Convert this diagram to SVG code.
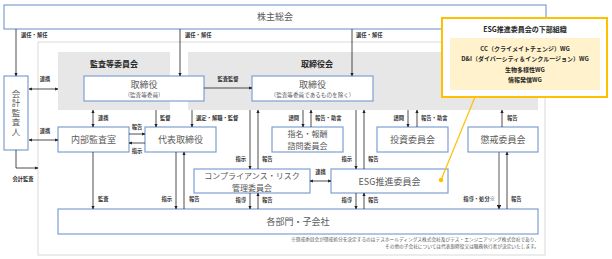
<svg xmlns="http://www.w3.org/2000/svg" width="612" height="259" viewBox="0 0 612 259">
<defs>
<marker id="ah" viewBox="0 0 6 6" refX="5.5" refY="3" markerWidth="4" markerHeight="4" orient="auto-start-reverse">
<path d="M0,0 L6,3 L0,6 z" fill="#222"/>
</marker>
<style>
text{font-family:"Noto Sans CJK JP","Noto Sans",sans-serif}
.box{fill:#fff;stroke:#7F9FD3;stroke-width:1.2}
.panel{fill:#E7E7E7}
.t{font-size:9px;fill:#595959;text-anchor:middle}
.t2{font-size:8px;fill:#595959;text-anchor:middle}
.v{font-size:8.5px;fill:#595959;text-anchor:middle;writing-mode:vertical-rl;letter-spacing:1px}
.sub{font-size:5.6px;fill:#595959;text-anchor:middle}
.pt{font-size:8px;font-weight:bold;fill:#262626;text-anchor:middle}
.l{font-size:5.3px;font-weight:bold;fill:#333}
.e{text-anchor:end}
.m{text-anchor:middle}
.c line,.c path{stroke:#222;stroke-width:0.8;fill:none;marker-end:url(#ah)}
.c .d{marker-start:url(#ah)}
.ct{font-size:6px;font-weight:bold;fill:#262626;text-anchor:middle}
</style>
</defs>
<rect width="612" height="259" fill="#fff"/>
<rect x="38" y="42" width="507" height="213" fill="#fff" stroke="#D9D9D9" stroke-width="1"/>

<g id="panel-audit"><rect class="panel" x="58" y="52" width="112" height="58"/><text class="pt" x="114" y="67">監査等委員会</text></g>
<g id="panel-board"><rect class="panel" x="188" y="52" width="350" height="58"/><text class="pt" x="317" y="67">取締役会</text></g>

<g id="shareholders"><rect class="box" x="4" y="5" width="542" height="24"/><text class="t" x="275" y="20">株主総会</text></g>
<g id="auditor"><rect class="box" x="4" y="76" width="24" height="74"/>
<text class="v" x="16" y="113">会計監査人</text></g>
<g id="director-audit"><rect class="box" x="84" y="76" width="120" height="25"/><text class="t" x="144" y="88">取締役</text><text class="sub" x="144" y="97">（監査等委員）</text></g>
<g id="director-other"><rect class="box" x="252" y="76" width="121" height="25"/><text class="t" x="312.5" y="88">取締役</text><text class="sub" x="312.5" y="97">（監査等委員であるものを除く）</text></g>
<g id="internal-audit"><rect class="box" x="58" y="127" width="71" height="25"/><text class="t" x="93.5" y="142.5">内部監査室</text></g>
<g id="ceo"><rect class="box" x="145" y="127" width="71" height="25"/><text class="t" x="180.5" y="142.5">代表取締役</text></g>
<g id="nomination"><rect class="box" x="272" y="127" width="71" height="25"/><text class="t2" x="307.5" y="137">指名・報酬<tspan x="307.5" dy="12">諮問委員会</tspan></text></g>
<g id="investment"><rect class="box" x="377" y="127" width="71" height="25"/><text class="t" x="412.5" y="142.5">投資委員会</text></g>
<g id="discipline"><rect class="box" x="468" y="127" width="70" height="25"/><text class="t" x="503" y="142.5">懲戒委員会</text></g>
<g id="compliance"><rect class="box" x="194" y="169" width="116" height="24"/><text class="t2" x="252" y="178.5">コンプライアンス・リスク<tspan x="252" dy="12">管理委員会</tspan></text></g>
<g id="esg"><rect class="box" x="331" y="169" width="117" height="24"/><text class="t" x="389.5" y="184.5">ESG推進委員会</text></g>
<g id="departments"><rect class="box" x="58" y="209" width="480" height="25"/><text class="t" x="298" y="224.5">各部門・子会社</text></g>

<g class="c" id="connectors">
<line x1="16" y1="29" x2="16" y2="76"/>
<line x1="180" y1="29" x2="180" y2="76"/>
<line x1="352" y1="29" x2="352" y2="76"/>
<line class="d" x1="29" y1="89" x2="58" y2="89"/>
<line x1="204" y1="88" x2="252" y2="88"/>
<line class="d" x1="93" y1="110" x2="93" y2="127"/>
<line x1="156" y1="110" x2="156" y2="127"/>
<line x1="192" y1="110" x2="192" y2="127"/>
<line class="d" x1="29" y1="140" x2="58" y2="140"/>
<line x1="129" y1="134" x2="145" y2="134"/>
<line x1="145" y1="143" x2="129" y2="143"/>
<path d="M16,150 V168 H38"/>
<line x1="93" y1="152" x2="93" y2="209"/>
<line x1="176" y1="152" x2="176" y2="209"/>
<line x1="184" y1="209" x2="184" y2="152"/>
<line x1="250" y1="110" x2="250" y2="169"/>
<line x1="258" y1="169" x2="258" y2="110"/>
<line x1="250" y1="193" x2="250" y2="209"/>
<line x1="258" y1="209" x2="258" y2="193"/>
<line x1="303" y1="110" x2="303" y2="127"/>
<line x1="311" y1="127" x2="311" y2="110"/>
<line class="d" x1="310" y1="181" x2="331" y2="181"/>
<line x1="356" y1="110" x2="356" y2="169"/>
<line x1="364" y1="169" x2="364" y2="110"/>
<line x1="356" y1="193" x2="356" y2="209"/>
<line x1="364" y1="209" x2="364" y2="193"/>
<line x1="408" y1="110" x2="408" y2="127"/>
<line x1="417" y1="127" x2="417" y2="110"/>
<line x1="502" y1="127" x2="502" y2="110"/>
<line x1="499" y1="152" x2="499" y2="209" style="stroke:#777;stroke-width:1.2"/>
<line x1="507" y1="209" x2="507" y2="152"/>
</g>

<g id="labels">
<text class="l" x="21" y="37">選任・解任</text>
<text class="l" x="185" y="37">選任・解任</text>
<text class="l" x="356" y="37">選任・解任</text>
<text class="l m" x="45" y="81">連携</text>
<text class="l m" x="228" y="81">監査監督</text>
<text class="l" x="98" y="120">連携</text>
<text class="l" x="160" y="120">監督</text>
<text class="l" x="196" y="120">選定・解職・監督</text>
<text class="l m" x="45" y="133">連携</text>
<text class="l m" x="137" y="129">報告</text>
<text class="l m" x="137" y="153">指示</text>
<text class="l m" x="23" y="181">会計監査</text>
<text class="l" x="98" y="201">監査</text>
<text class="l e" x="172" y="201">指示</text>
<text class="l" x="189" y="201">報告</text>
<text class="l e" x="246" y="161">指示</text>
<text class="l" x="262" y="161">報告</text>
<text class="l e" x="246" y="202">指導</text>
<text class="l" x="262" y="202">報告</text>
<text class="l e" x="299" y="120">諮問</text>
<text class="l" x="315" y="120">報告・助言</text>
<text class="l m" x="320.5" y="174">連携</text>
<text class="l e" x="352" y="161">指示</text>
<text class="l" x="368" y="161">報告</text>
<text class="l e" x="352" y="202">指導</text>
<text class="l" x="368" y="202">報告</text>
<text class="l e" x="404" y="120">諮問</text>
<text class="l" x="421" y="120">報告・助言</text>
<text class="l" x="507" y="120">報告</text>
<text class="l e" x="495" y="201">指導・処分※</text>
<text class="l" x="511" y="201">報告</text>
</g>

<g id="footnote">
<text x="539" y="241" font-size="4.7" fill="#595959" text-anchor="end">※懲戒委員会が懲戒処分を決定するのはテスホールディングス株式会社及びテス・エンジニアリング株式会社であり、<tspan x="539" dy="6.5">その他の子会社については代表取締役又は職務執行者が決定いたします。</tspan></text>
</g>

<g id="esg-sub">
<line x1="475" y1="97" x2="441" y2="180" stroke="#FFC000" stroke-width="1.2"/>
<circle cx="441" cy="180" r="2.2" fill="#FFC000"/>
<rect x="442" y="18" width="165" height="79" fill="#fff" stroke="#FFC000" stroke-width="2"/>
<rect x="450" y="38" width="150" height="52" fill="#FFF2CC"/>
<text x="525" y="32" font-size="7" font-weight="bold" fill="#262626" text-anchor="middle">ESG推進委員会の下部組織</text>
<text class="ct" x="525" y="50.5">CC（クライメイトチェンジ）WG</text>
<text class="ct" x="525" y="61">D&amp;I（ダイバーシティ＆インクルージョン）WG</text>
<text class="ct" x="525" y="71.5">生物多様性WG</text>
<text class="ct" x="525" y="82">情報発信WG</text>
</g>
</svg>
